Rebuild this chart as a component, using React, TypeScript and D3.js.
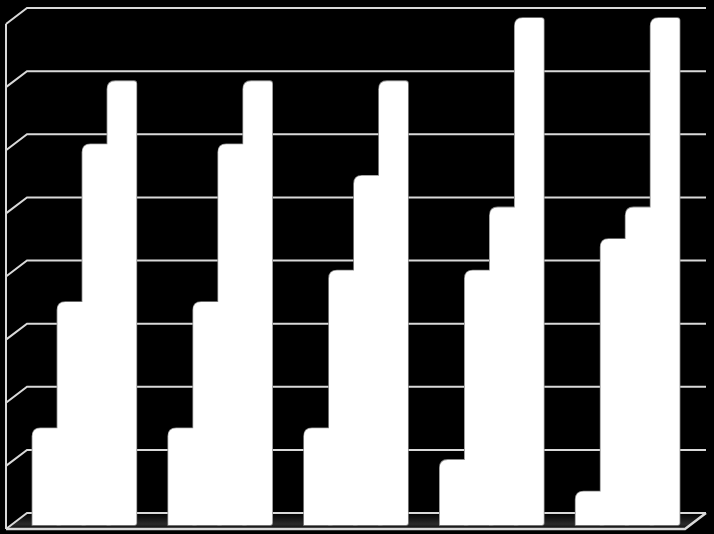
import React from 'react';
import * as d3 from 'd3';

// Chart data
const groups = ['A', 'B', 'C', 'D', 'E'];
const seriesNames = ['S1', 'S2', 'S3', 'S4'];
const series1 = [1.5, 1.5, 1.5, 1, 0.5];
const series2 = [3.5, 3.5, 4, 4, 4.5];
const series3 = [6, 6, 5.5, 5, 5];
const series4 = [7, 7, 7, 8, 8];
const yTicks = [0, 1, 2, 3, 4, 5, 6, 7, 8];

const WIDTH = 714;
const HEIGHT = 534;
// 3D depth offset from back wall to front edge
const DEPTH_X = -21;
const DEPTH_Y = 16;
const GRID_COLOR = '#d9d9d9';

const App: React.FC = () => {
  const allSeries = [series1, series2, series3, series4];

  const y = d3.scaleLinear().domain([0, 8]).range([513, 8]);
  const x0 = d3.scaleBand<string>().domain(groups).range([27, 706]).paddingInner(0.264).paddingOuter(0.132);
  const x1 = d3.scaleBand<string>().domain(seriesNames).range([0, x0.bandwidth()]);

  const backLeft = x0.range()[0];
  const backRight = x0.range()[1];
  const base = y(0);

  // bars sit half way into the depth
  const midX = DEPTH_X / 2 - 2;
  const midY = DEPTH_Y / 2 + 2;
  const side = 4;

  const barPath = (left: number, top: number, w: number, bottom: number) => {
    const rl = 8;
    const rr = 2.5;
    const right = left + w;
    return [
      `M${left},${bottom}`,
      `L${left},${top + rl}`,
      `Q${left},${top} ${left + rl},${top}`,
      `L${right - rr},${top}`,
      `Q${right},${top} ${right},${top + rr}`,
      `L${right},${bottom - 2}`,
      `Q${right},${bottom} ${right - 2},${bottom}`,
      'Z',
    ].join(' ');
  };

  const bars = groups.flatMap((g, gi) =>
    seriesNames.map((s, si) => ({
      key: `${g}-${s}`,
      d: barPath(
        (x0(g) as number) + (x1(s) as number),
        y(allSeries[si][gi]),
        x1.bandwidth() + side,
        base + 2
      ),
    }))
  );

  const floor = [
    [backLeft, base],
    [backRight, base],
    [backRight + DEPTH_X, base + DEPTH_Y],
    [backLeft + DEPTH_X, base + DEPTH_Y],
  ];

  return (
    <svg
      width={WIDTH}
      height={HEIGHT}
      style={{ position: 'absolute', left: 0, top: 0, display: 'block', background: '#000' }}
    >
      <defs>
        <linearGradient id="floorShade" x1="0" y1="0" x2="0" y2="1">
          <stop offset="0%" stopColor="#000" />
          <stop offset="70%" stopColor="#2b2b2b" />
          <stop offset="100%" stopColor="#0a0a0a" />
        </linearGradient>
      </defs>
      <rect width={WIDTH} height={HEIGHT} fill="#000" />

      {/* floor */}
      <polygon points={floor.map(p => p.join(',')).join(' ')} fill="url(#floorShade)" stroke="none" />

      {/* gridlines on back and left walls */}
      {yTicks.map(t => (
        <polyline
          key={t}
          points={`${backLeft + DEPTH_X},${y(t) + DEPTH_Y} ${backLeft},${y(t)} ${backRight},${y(t)}`}
          fill="none"
          stroke={GRID_COLOR}
          strokeWidth={2}
        />
      ))}
      <line
        x1={backLeft + DEPTH_X}
        x2={backLeft + DEPTH_X}
        y1={y(8) + DEPTH_Y}
        y2={base + DEPTH_Y}
        stroke={GRID_COLOR}
        strokeWidth={2}
      />

      {/* bars: outline pass, then fill pass so inner seams vanish */}
      <g transform={`translate(${midX},${midY})`}>
        {bars.map(b => (
          <path key={`o-${b.key}`} d={b.d} fill="#fff" stroke="#8c8c8c" strokeWidth={1.6} />
        ))}
        {bars.map(b => (
          <path key={`f-${b.key}`} d={b.d} fill="#fff" stroke="none" />
        ))}
      </g>

      {/* floor front edges */}
      <polyline
        points={`${backRight},${base} ${backRight + DEPTH_X},${base + DEPTH_Y} ${backLeft + DEPTH_X},${base + DEPTH_Y}`}
        fill="none"
        stroke={GRID_COLOR}
        strokeWidth={2.5}
      />
    </svg>
  );
};

export default App;
